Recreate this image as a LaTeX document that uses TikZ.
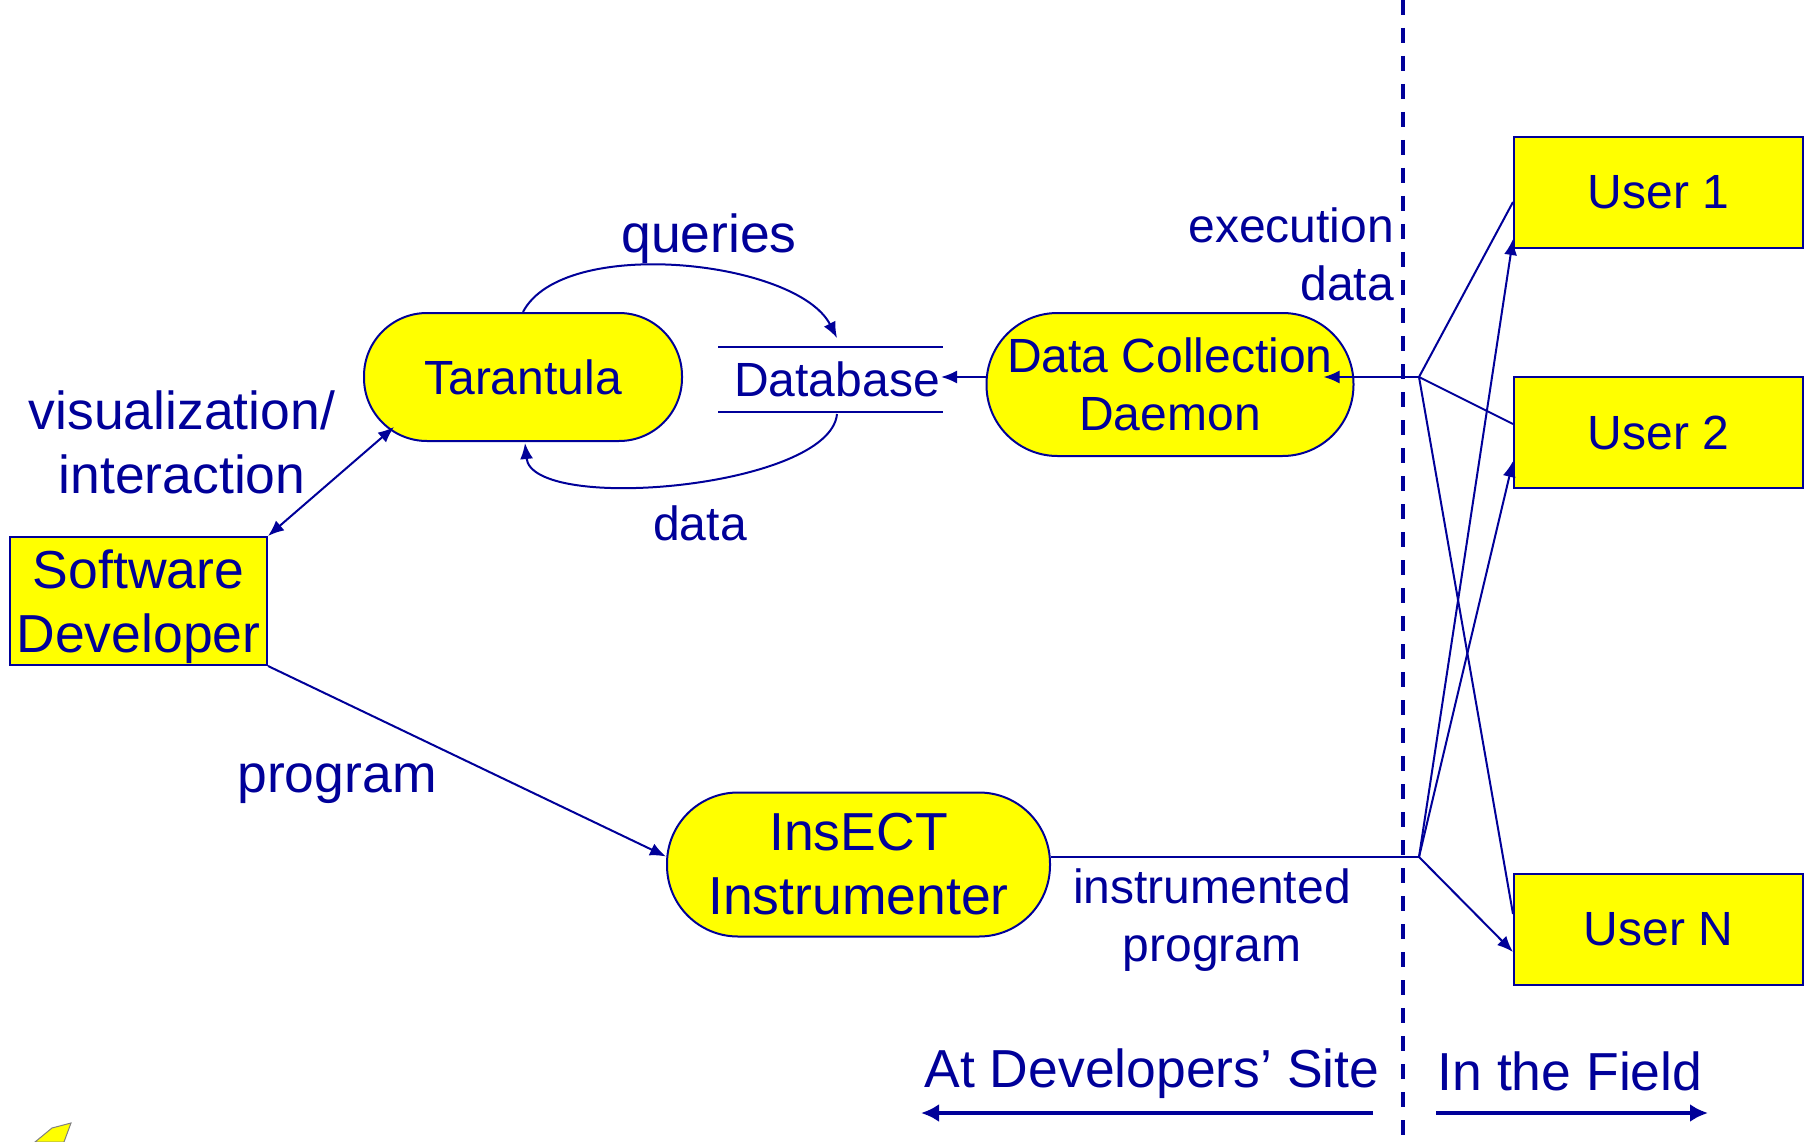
\documentclass[tikz,border=0pt]{standalone}
\usepackage{fontspec}
\setmainfont{Liberation Sans}
\usetikzlibrary{arrows.meta,calc}
\definecolor{dblue}{RGB}{0,0,153}
\definecolor{yel}{RGB}{255,255,0}
\begin{document}
\begin{tikzpicture}[x=1pt,y=-1pt,
  big/.style={font=\fontsize{53.5}{64}\selectfont, text=dblue},
  med/.style={font=\fontsize{48}{58}\selectfont, text=dblue},
  stadium/.style={draw=dblue, line width=2pt, fill=yel, rounded corners=#1, inner sep=0pt, align=center},
  box/.style={draw=dblue, line width=2pt, fill=yel, inner sep=0pt, align=center},
  conn/.style={draw=dblue, line width=2pt},
  tip/.style={-{Latex[length=16pt,width=13pt]}},
  bothtip/.style={{Latex[length=16pt,width=13pt]}-{Latex[length=16pt,width=13pt]}},
  bigtip/.style={-{Latex[length=18pt,width=18pt]}, draw=dblue, line width=4pt},
]
\useasboundingbox (0,0) rectangle (1810,1142);

% nodes
\node[stadium=63pt, med, minimum width=318pt, minimum height=128pt] (tar) at (523,377) {Tarantula};
\node[stadium=71pt, med, minimum width=367pt, minimum height=143pt] (dcd) at (1170,384.5) {Data Collection\\Daemon};
\node[stadium=71pt, big, minimum width=383pt, minimum height=144pt] (ins) at (858.5,864.5) {InsECT\\Instrumenter};
\node[box, big, minimum width=257pt, minimum height=128pt] (sd) at (138.5,601) {\rule{0pt}{51pt}Software\\Developer};
\node[box, med, minimum width=289pt, minimum height=111pt] (u1) at (1658.5,192.5) {User 1};
\node[box, med, minimum width=289pt, minimum height=111pt] (u2) at (1658.5,432.5) {User 2};
\node[box, med, minimum width=289pt, minimum height=111pt] (un) at (1658.5,929) {User N};
\node[med, inner sep=0pt] (db) at (837,379) {Database};

% database lines
\coordinate (dbtl) at (718,347);
\coordinate (dbtr) at (943,347);
\coordinate (dbbl) at (718,412);
\coordinate (dbbr) at (943,412);
\draw[conn] (dbtl) -- (dbtr);
\draw[conn] (dbbl) -- (dbbr);
\coordinate (dbR) at (941,377);
\coordinate (dbtop) at (837,338);
\coordinate (dbbot) at (837,414);

% separator
\coordinate (septop) at (1403,0);
\coordinate (sepbot) at (1403,1142);
\draw[dblue, line width=4.5pt, dash pattern=on 15pt off 13pt] (septop) -- (sepbot);

% junctions
\coordinate (j1) at (1419,377);
\coordinate (j2) at (1419,857);

% connectors
\draw[conn, tip] (j1) -- ($(dcd.east)+(-31,-7.5)$);
\draw[conn] ($(u1.west)+(0,9.5)$) -- (j1);
\draw[conn] ($(u2.west)+(0,-8.5)$) -- (j1);
\draw[conn] ($(un.west)+(0,-15)$) -- (j1);
\draw[conn, tip] (j2) -- ($(u1.south west)+(0,-10)$);
\draw[conn, tip] (j2) -- ($(u2.south west)+(0,-28)$);
\draw[conn, tip] (j2) -- ($(un.west)+(0,23)$);
\draw[conn] ($(ins.east)+(0,-7.5)$) -- (j2);
\draw[conn, tip] ($(dcd.west)+(0,-7.5)$) -- (dbR);
\draw[conn, bothtip] (sd.north east) -- ($(tar.center)+(-129,50)$);
\draw[conn, tip] (sd.south east) -- ($(ins.west)+(0,-8)$);
\draw[conn, tip] (tar.north) .. controls (563,235) and (797,260) .. (dbtop);
\draw[conn, tip] (dbbot) .. controls (830,488) and (532,514) .. ($(tar.south)+(2,1)$);

% labels
\node[big] (lq) at (709,239) {queries};
\node[med] (ld) at (700,523) {data};
\node[big, align=center] (lvis) at (182,442) {visualization/\\interaction};
\node[big] (lprog) at (337,784) {program};
\node[med, align=right, anchor=east, inner sep=0pt] (lexec) at (1394,254) {execution\\data};
\node[med, align=center] (linst) at (1212,920) {instrumented\\program};
\node[big] (lsite) at (1152,1074) {At Developers’ Site};
\node[big] (lfield) at (1570,1071) {In the Field};

% bottom arrows
\coordinate (la1) at (1373,1113);
\coordinate (la2) at (921,1113);
\coordinate (ra1) at (1436,1113);
\coordinate (ra2) at (1708,1113);
\draw[bigtip] (la1) -- (la2);
\draw[bigtip] (ra1) -- (ra2);

% clip-art fragment
\coordinate (ca1) at (35,1142);
\draw[gray, fill=yel, line width=1pt] (ca1) -- (52,1128) -- (71,1123) -- (64,1142) -- cycle;
\end{tikzpicture}
\end{document}
